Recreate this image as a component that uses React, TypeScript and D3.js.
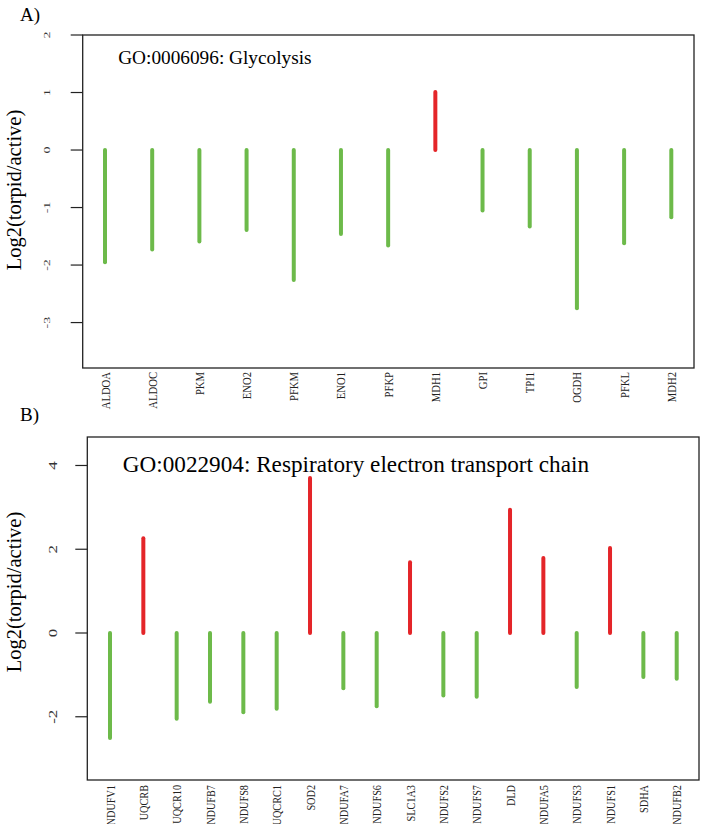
import React from "react";
import * as d3 from "d3";

// ---- Data ----
const glycolysisGenes = ["ALDOA", "ALDOC", "PKM", "ENO2", "PFKM", "ENO1", "PFKP", "MDH1", "GPI", "TPI1", "OGDH", "PFKL", "MDH2"];
const glycolysisValues = [-1.95, -1.73, -1.59, -1.39, -2.26, -1.46, -1.66, 1.01, -1.05, -1.33, -2.75, -1.62, -1.17];
const glycolysisTicks = [2, 1, 0, -1, -2, -3];

const respGenes = ["NDUFV1", "UQCRB", "UQCR10", "NDUFB7", "NDUFS8", "UQCRC1", "SOD2", "NDUFA7", "NDUFS6", "SLC1A3", "NDUFS2", "NDUFS7", "DLD", "NDUFA5", "NDUFS3", "NDUFS1", "SDHA", "NDUFB2"];
const respValues = [-2.51, 2.26, -2.05, -1.64, -1.89, -1.81, 3.70, -1.32, -1.75, 1.69, -1.49, -1.52, 2.94, 1.79, -1.29, 2.03, -1.05, -1.09];
const respTicks = [4, 2, 0, -2];

const yLabel = "Log2(torpid/active)";
const titleA = "GO:0006096: Glycolysis";
const titleB = "GO:0022904: Respiratory electron transport chain";

const UP = "#E42529";
const DOWN = "#6DBA4A";
const FONT = "'Liberation Serif', 'Times New Roman', serif";

type PanelProps = {
  genes: string[];
  values: number[];
  ticks: number[];
  title: string;
  letter: string;
  box: { left: number; right: number; top: number; bottom: number };
  domain: [number, number];
  xInset: [number, number];
  titleSize: number;
  titleY: number;
  letterY: number;
  yLabelCenter: number;
  tickFont: number;
  tickScale: number;
  tickLabelX: number;
  xLabelTop: number;
  xLabelFont: number;
};

function Panel(p: PanelProps) {
  const { box } = p;
  const y = d3.scaleLinear().domain(p.domain).range([box.bottom, box.top]);
  const x = d3
    .scalePoint<string>()
    .domain(p.genes)
    .range([box.left + p.xInset[0], box.right - p.xInset[1]]);
  return (
    <g>
      <text x={20} y={p.letterY} fontFamily={FONT} fontSize={19} fill="#000">
        {p.letter}
      </text>
      <rect
        x={box.left}
        y={box.top}
        width={box.right - box.left}
        height={box.bottom - box.top}
        fill="none"
        stroke="#222"
        strokeWidth={1.3}
      />
      {p.ticks.map((t) => (
        <g key={t}>
          <line x1={box.left - 12} x2={box.left} y1={y(t)} y2={y(t)} stroke="#222" strokeWidth={1.2} />
          <text
            transform={`translate(${p.tickLabelX},${y(t)}) rotate(-90) scale(1,${p.tickScale})`}
            textAnchor="middle"
            fontFamily={FONT}
            fontSize={p.tickFont}
            fill="#333"
          >
            {String(t)}
          </text>
        </g>
      ))}
      <text
        transform={`translate(21,${p.yLabelCenter}) rotate(-90)`}
        textAnchor="middle"
        fontFamily={FONT}
        fontSize={20.5}
        fill="#000"
      >
        {yLabel}
      </text>
      <text x={box.left + 35.5} y={p.titleY} fontFamily={FONT} fontSize={p.titleSize} fill="#000">
        {p.title}
      </text>
      {p.genes.map((g, i) => (
        <line
          key={g}
          x1={x(g)!}
          x2={x(g)!}
          y1={y(0)}
          y2={y(p.values[i])}
          stroke={p.values[i] > 0 ? UP : DOWN}
          strokeWidth={4}
          strokeLinecap="round"
        />
      ))}
      {p.genes.map((g) => (
        <text
          key={"l" + g}
          transform={`translate(${x(g)! + 4.5},${p.xLabelTop}) rotate(-90) scale(0.82,1)`}
          textAnchor="end"
          fontFamily={FONT}
          fontSize={p.xLabelFont}
          fill="#222"
        >
          {g}
        </text>
      ))}
    </g>
  );
}

export default function App() {
  return (
    <svg
      width={704}
      height={824}
      viewBox="0 0 704 824"
      style={{ position: "absolute", left: 0, top: 0, background: "#fff" }}
    >
      <rect x={0} y={0} width={704} height={824} fill="#fff" />
      <Panel
        genes={glycolysisGenes}
        values={glycolysisValues}
        ticks={glycolysisTicks}
        title={titleA}
        letter="A)"
        box={{ left: 82.7, right: 694, top: 35, bottom: 368 }}
        domain={[-3.79, 2]}
        xInset={[22.3, 22.7]}
        titleSize={19.3}
        titleY={64}
        letterY={21}
        yLabelCenter={190}
        tickFont={14}
        tickScale={0.6}
        tickLabelX={50}
        xLabelTop={372}
        xLabelFont={13}
      />
      <Panel
        genes={respGenes}
        values={respValues}
        ticks={respTicks}
        title={titleB}
        letter="B)"
        box={{ left: 87.3, right: 699, top: 437, bottom: 780 }}
        domain={[-3.51, 4.68]}
        xInset={[22.7, 22.3]}
        titleSize={23.2}
        titleY={472}
        letterY={421}
        yLabelCenter={592}
        tickFont={17}
        tickScale={0.7}
        tickLabelX={57}
        xLabelTop={785}
        xLabelFont={12.5}
      />
    </svg>
  );
}
